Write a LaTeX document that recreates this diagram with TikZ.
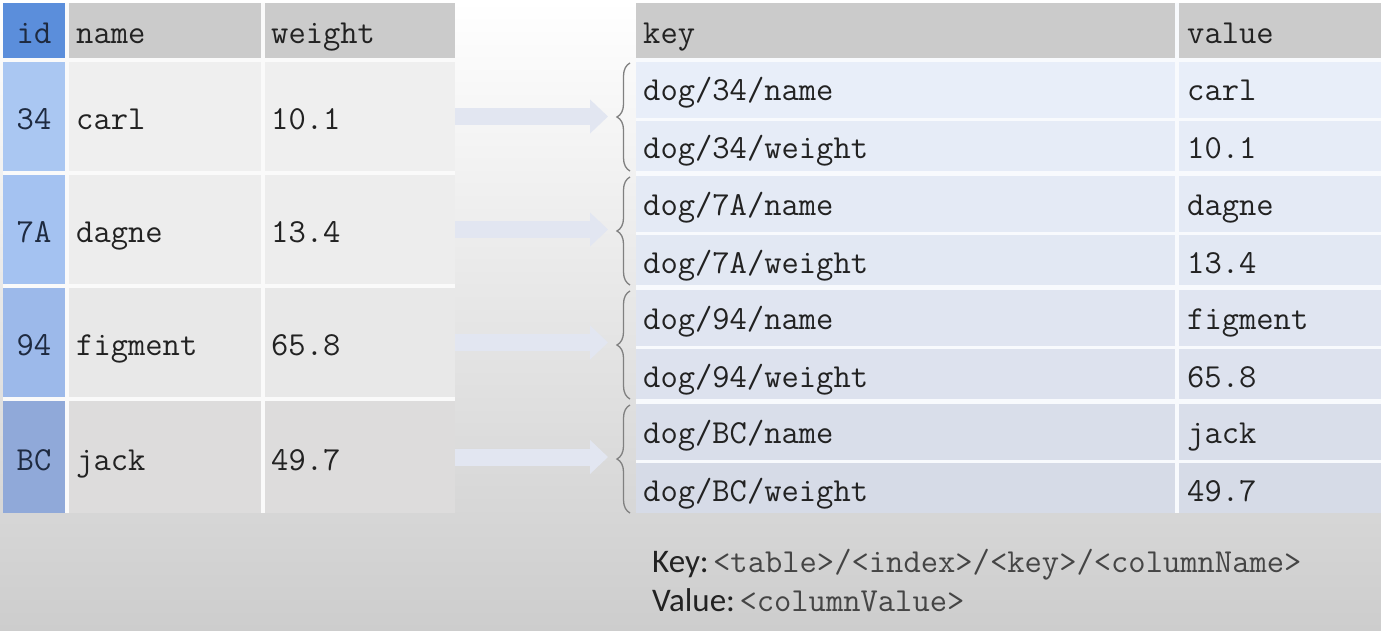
\documentclass[tikz,border=0pt]{standalone}
\usepackage{fontspec}
\newfontfamily\calfont{Carlito}
\usetikzlibrary{arrows.meta,decorations.pathreplacing}
\definecolor{idhead}{HTML}{5B8EDB}
\definecolor{hdr}{HTML}{CBCBCB}
\definecolor{txtc}{HTML}{222222}
\definecolor{idtxt}{HTML}{1E2A40}
\definecolor{arrowc}{HTML}{E2E6F1}
\definecolor{bracec}{HTML}{808080}
\definecolor{legc}{HTML}{454545}
\definecolor{bgmid}{HTML}{F0F0F0}
\definecolor{bgbot}{HTML}{CDCDCD}
% left rows
\definecolor{idA}{HTML}{AAC7F2}
\definecolor{idB}{HTML}{A4C2F1}
\definecolor{idC}{HTML}{9CB9EA}
\definecolor{idD}{HTML}{90A9D9}
\definecolor{lA}{HTML}{EFEFEF}
\definecolor{lB}{HTML}{EDEDED}
\definecolor{lC}{HTML}{E8E8E8}
\definecolor{lD}{HTML}{DDDCDC}
% right rows
\definecolor{rA}{HTML}{E8EEF9}
\definecolor{rB}{HTML}{E6ECF7}
\definecolor{rC}{HTML}{E4EAF5}
\definecolor{rD}{HTML}{E2E8F3}
\definecolor{rE}{HTML}{E0E5F1}
\definecolor{rF}{HTML}{DDE2EE}
\definecolor{rG}{HTML}{D9DEEA}
\definecolor{rH}{HTML}{D6DBE7}
\newcommand\cellbox[6]{%
  \node[cellst, fill=#6, minimum width={(#4-#2)*1pt}, minimum height={(#5-#3)*1pt}, anchor=north west] (#1) at (#2,#3) {};}
\begin{document}
\begin{tikzpicture}[x=1pt,y=-1pt,
  cellst/.style={inner sep=0pt, outer sep=0pt, draw=none},
  txt/.style={inner sep=0pt, text=txtc, font=\ttfamily\fontsize{33.6}{36}\selectfont, text height=27pt, text depth=1pt},
  idt/.style={txt, text=idtxt},
  bigarrow/.style={draw=arrowc, line width=17pt, -{Triangle[length=18pt,width=33pt,fill=arrowc]}},
  bracest/.style={draw=bracec, line width=1.3pt, decorate, decoration={brace, amplitude=13pt}},
  leg/.style={inner sep=0pt, anchor=base west, text=txtc}
]
\useasboundingbox (0,0) rectangle (1381,631);
\shade[top color=white, middle color=bgmid, bottom color=bgbot] (0,0) rectangle (1381,631);
\fill[white!70!lA] (3,3) rectangle (455,513);
\fill[white!70!rA] (636,3) rectangle (1381,513);

% ---- left table ----
\cellbox{hid}{3}{3}{65}{58}{idhead}
\cellbox{hname}{69}{3}{261}{58}{hdr}
\cellbox{hweight}{265}{3}{455}{58}{hdr}
\node[idt] at (hid.center) {id};
\node[txt, anchor=west] at ([xshift=7pt]hname.west) {name};
\node[txt, anchor=west] at ([xshift=6pt]hweight.west) {weight};

\cellbox{i1}{3}{62}{65}{171}{idA}
\cellbox{n1}{69}{62}{261}{171}{lA}
\cellbox{w1}{265}{62}{455}{171}{lA}
\cellbox{i2}{3}{175}{65}{284}{idB}
\cellbox{n2}{69}{175}{261}{284}{lB}
\cellbox{w2}{265}{175}{455}{284}{lB}
\cellbox{i3}{3}{288}{65}{397}{idC}
\cellbox{n3}{69}{288}{261}{397}{lC}
\cellbox{w3}{265}{288}{455}{397}{lC}
\cellbox{i4}{3}{401}{65}{513}{idD}
\cellbox{n4}{69}{401}{261}{513}{lD}
\cellbox{w4}{265}{401}{455}{513}{lD}

\node[idt] at (i1.center) {34};
\node[idt] at (i2.center) {7A};
\node[idt] at (i3.center) {94};
\node[idt] at (i4.center) {BC};
\node[txt, anchor=west] at ([xshift=7pt]n1.west) {carl};
\node[txt, anchor=west] at ([xshift=7pt]n2.west) {dagne};
\node[txt, anchor=west] at ([xshift=7pt]n3.west) {figment};
\node[txt, anchor=west] at ([xshift=7pt]n4.west) {jack};
\node[txt, anchor=west] at ([xshift=6pt]w1.west) {10.1};
\node[txt, anchor=west] at ([xshift=6pt]w2.west) {13.4};
\node[txt, anchor=west] at ([xshift=6pt]w3.west) {65.8};
\node[txt, anchor=west] at ([xshift=6pt]w4.west) {49.7};

% ---- right table ----
\cellbox{hkey}{636}{3}{1175}{58}{hdr}
\cellbox{hval}{1179}{3}{1381}{58}{hdr}
\node[txt, anchor=west] at ([xshift=7pt]hkey.west) {key};
\node[txt, anchor=west] at ([xshift=8pt]hval.west) {value};

\cellbox{k1}{636}{62}{1175}{118}{rA}
\cellbox{v1}{1179}{62}{1381}{118}{rA}
\cellbox{k2}{636}{121}{1175}{171}{rB}
\cellbox{v2}{1179}{121}{1381}{171}{rB}
\cellbox{k3}{636}{176}{1175}{232}{rC}
\cellbox{v3}{1179}{176}{1381}{232}{rC}
\cellbox{k4}{636}{235}{1175}{285}{rD}
\cellbox{v4}{1179}{235}{1381}{285}{rD}
\cellbox{k5}{636}{290}{1175}{346}{rE}
\cellbox{v5}{1179}{290}{1381}{346}{rE}
\cellbox{k6}{636}{349}{1175}{399}{rF}
\cellbox{v6}{1179}{349}{1381}{399}{rF}
\cellbox{k7}{636}{404}{1175}{460}{rG}
\cellbox{v7}{1179}{404}{1381}{460}{rG}
\cellbox{k8}{636}{463}{1175}{513}{rH}
\cellbox{v8}{1179}{463}{1381}{513}{rH}

\node[txt, anchor=west] at ([xshift=7pt,yshift=2pt]k1.west) {dog/34/name};
\node[txt, anchor=west] at ([xshift=8pt,yshift=2pt]v1.west) {carl};
\node[txt, anchor=west] at ([xshift=7pt]k2.west) {dog/34/weight};
\node[txt, anchor=west] at ([xshift=8pt]v2.west) {10.1};
\node[txt, anchor=west] at ([xshift=7pt,yshift=2pt]k3.west) {dog/7A/name};
\node[txt, anchor=west] at ([xshift=8pt,yshift=2pt]v3.west) {dagne};
\node[txt, anchor=west] at ([xshift=7pt]k4.west) {dog/7A/weight};
\node[txt, anchor=west] at ([xshift=8pt]v4.west) {13.4};
\node[txt, anchor=west] at ([xshift=7pt,yshift=2pt]k5.west) {dog/94/name};
\node[txt, anchor=west] at ([xshift=8pt,yshift=2pt]v5.west) {figment};
\node[txt, anchor=west] at ([xshift=7pt]k6.west) {dog/94/weight};
\node[txt, anchor=west] at ([xshift=8pt]v6.west) {65.8};
\node[txt, anchor=west] at ([xshift=7pt,yshift=2pt]k7.west) {dog/BC/name};
\node[txt, anchor=west] at ([xshift=8pt,yshift=2pt]v7.west) {jack};
\node[txt, anchor=west] at ([xshift=7pt]k8.west) {dog/BC/weight};
\node[txt, anchor=west] at ([xshift=8pt]v8.west) {49.7};

% ---- braces ----
\coordinate (b1s) at (630,171); \coordinate (b1e) at (630,63);
\coordinate (b2s) at (630,285); \coordinate (b2e) at (630,177);
\coordinate (b3s) at (630,399); \coordinate (b3e) at (630,291);
\coordinate (b4s) at (630,513); \coordinate (b4e) at (630,405);
\draw[bracest] (b1s) -- (b1e);
\draw[bracest] (b2s) -- (b2e);
\draw[bracest] (b3s) -- (b3e);
\draw[bracest] (b4s) -- (b4e);

% ---- arrows ----
\coordinate (t1) at (608,116.5);
\coordinate (t2) at (608,229.5);
\coordinate (t3) at (608,342.5);
\coordinate (t4) at (608,457);
\draw[bigarrow] (w1.east) -- (t1);
\draw[bigarrow] (w2.east) -- (t2);
\draw[bigarrow] (w3.east) -- (t3);
\draw[bigarrow] (w4.east) -- (t4);

% ---- legend ----
\node[leg] (lk) at (652,572) {{\calfont\fontsize{33}{38}\selectfont Key:} {\color{legc}\ttfamily\fontsize{33.6}{36}\selectfont <table>/<index>/<key>/<columnName>}};
\node[leg] (lv) at (652,611) {{\calfont\fontsize{33}{38}\selectfont Value:} {\color{legc}\ttfamily\fontsize{33.6}{36}\selectfont <columnValue>}};
\end{tikzpicture}
\end{document}
